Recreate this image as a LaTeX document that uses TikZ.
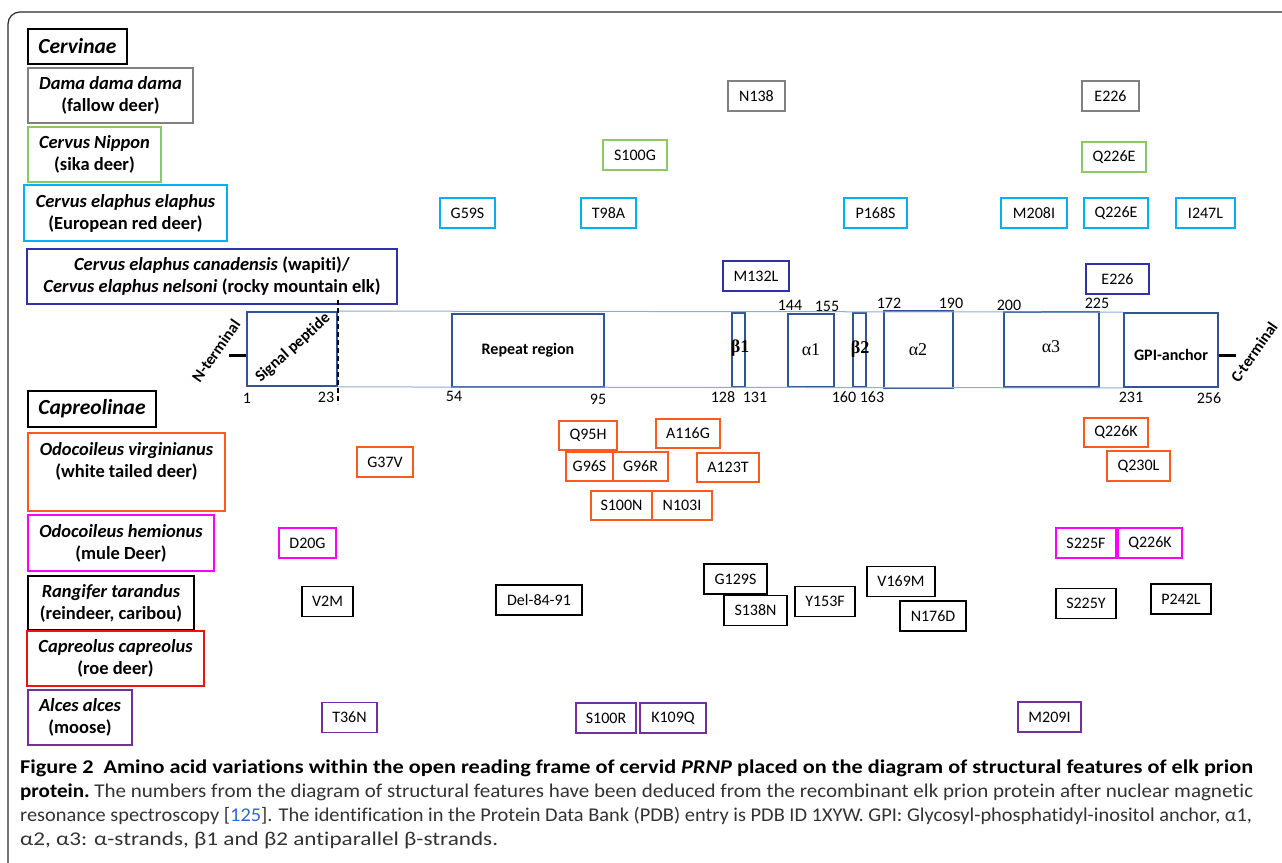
\documentclass[tikz,border=0pt]{standalone}
\usepackage{graphicx}
\usepackage{fontspec}
\setmainfont{Carlito}[Ligatures=NoCommon]
\newfontfamily\grkfont{Liberation Serif}
\definecolor{cgray}{RGB}{128,128,128}
\definecolor{cgreen}{RGB}{140,200,100}
\definecolor{ccyan}{RGB}{0,176,240}
\definecolor{cdblue}{RGB}{48,48,170}
\definecolor{corange}{RGB}{255,90,30}
\definecolor{cmag}{RGB}{255,0,255}
\definecolor{cred}{RGB}{240,16,16}
\definecolor{cpurple}{RGB}{112,48,160}
\definecolor{protblue}{RGB}{47,85,151}
\definecolor{thinblue}{RGB}{143,170,220}
\definecolor{framec}{RGB}{40,40,40}
\definecolor{captext}{RGB}{50,50,50}
\definecolor{reflink}{RGB}{50,100,220}
\newsavebox\capbox
\newcommand\fitline[2]{\sbox\capbox{#2}\pgfmathsetmacro\capratio{#1/\the\wd\capbox}\scalebox{\capratio}[1]{\usebox\capbox}}
\tikzset{
  spbox/.style={draw, line width=1.8pt, align=center, inner sep=0pt,
    font=\fontsize{18.5}{22}\selectfont\bfseries},
  mut/.style={draw, line width=1.6pt, minimum height=30pt, inner sep=0pt,
    font=\fontsize{16}{18}\selectfont},
  pbox/.style={draw=protblue, line width=1.8pt, inner sep=0pt,
    font=\fontsize{16}{18}\selectfont\bfseries},
  grk/.style={font=\fontsize{18}{20}\selectfont\grkfont},
  num/.style={inner sep=0pt, font=\fontsize{16}{18}\selectfont},
  term/.style={inner sep=0pt, font=\fontsize{16}{18}\selectfont\bfseries},
  thinl/.style={draw=thinblue, line width=1pt},
  stub/.style={draw=black, line width=3pt},
  capl/.style={anchor=base west, inner sep=0pt, font=\fontsize{19.5}{24}\selectfont},
}
\begin{document}
\begin{tikzpicture}[x=1pt,y=-1pt]
\useasboundingbox (0,0) rectangle (1282,862);
% frame
\draw[framec, line width=1.2pt, rounded corners=12pt] (1290,12) -- (8,12) -- (8,870);

% ---- species boxes ----
\node[spbox, minimum width=99pt, minimum height=35pt, font=\fontsize{21.5}{24}\selectfont\bfseries\itshape] (cerv) at (77.5,46.5) {Cervinae};
\node[spbox, draw=cgray, minimum width=165pt, minimum height=55pt] (dama) at (110.5,95.5) {\itshape Dama dama dama\\(fallow deer)};
\node[spbox, draw=cgreen, minimum width=133pt, minimum height=55pt] (nipp) at (94.5,154.5) {\itshape Cervus Nippon\\(sika deer)};
\node[spbox, draw=ccyan, minimum width=203pt, minimum height=56pt] (elap) at (125.5,213) {\itshape Cervus elaphus elaphus\\(European red deer)};
\node[spbox, draw=cdblue, minimum width=370pt, minimum height=55pt] (cana) at (212,276.5) {\textit{Cervus elaphus canadensis} (wapiti)/\\\textit{Cervus elaphus nelsoni} (rocky mountain elk)};

\node[spbox, minimum width=128pt, minimum height=36pt, font=\fontsize{21.5}{24}\selectfont\bfseries\itshape] (capr) at (92,409) {Capreolinae};
\node[spbox, draw=corange, minimum width=197pt, minimum height=78pt] (virg) at (126.5,472) {};
\node[spbox, draw=none, align=center] (virgt) at (126.5,461) {\itshape Odocoileus virginianus\\(white tailed deer)};
\node[spbox, draw=cmag, minimum width=186pt, minimum height=56pt] (hemi) at (121,543) {\itshape Odocoileus hemionus\\(mule Deer)};
\node[spbox, minimum width=166pt, minimum height=54pt] (rang) at (111,603) {\itshape Rangifer tarandus\\(reindeer, caribou)};
\node[spbox, draw=cred, minimum width=177pt, minimum height=55pt] (capc) at (115.5,658.5) {\itshape Capreolus capreolus\\(roe deer)};
\node[spbox, draw=cpurple, minimum width=104pt, minimum height=55pt] (alce) at (80,717.5) {\itshape Alces alces\\(moose)};

% ---- Cervinae variations ----
\node[mut, draw=cgray, minimum width=57pt] (n138) at (756.5,96) {N138};
\node[mut, draw=cgray, minimum width=57pt] (e226a) at (1110.5,96) {E226};
\node[mut, draw=cgreen, minimum width=64pt] (s100g) at (635,155) {S100G};
\node[mut, draw=cgreen, minimum width=64pt] (q226ea) at (1114,157) {Q226E};
\node[mut, draw=ccyan, minimum width=55pt] (g59s) at (467.5,213) {G59S};
\node[mut, draw=ccyan, minimum width=55pt] (t98a) at (608.5,213) {T98A};
\node[mut, draw=ccyan, minimum width=63pt] (p168s) at (875.5,213) {P168S};
\node[mut, draw=ccyan, minimum width=66pt] (m208i) at (1034,213) {M208I};
\node[mut, draw=ccyan, minimum width=64pt] (q226eb) at (1116,213) {Q226E};
\node[mut, draw=ccyan, minimum width=59pt] (i247l) at (1205.5,213) {I247L};
\node[mut, draw=cdblue, minimum width=66pt] (m132l) at (756,276) {M132L};
\node[mut, draw=cdblue, minimum width=63pt] (e226b) at (1117.5,279) {E226};

% ---- protein diagram ----
\node[pbox, minimum width=90pt, minimum height=74pt] (sig) at (292,349) {};
\node[pbox, minimum width=152pt, minimum height=73pt] (rep) at (528,350.5) {Repeat region};
\node[pbox, minimum width=13pt, minimum height=74pt] (b1) at (738.5,350) {};
\node[pbox, minimum width=46pt, minimum height=73pt] (a1) at (811,350.5) {};
\node[pbox, minimum width=13pt, minimum height=74pt] (b2) at (859.5,350) {};
\node[pbox, minimum width=69pt, minimum height=77pt] (a2) at (918.5,349.5) {};
\node[pbox, minimum width=95pt, minimum height=75pt] (a3) at (1051.5,349.5) {};
\node[pbox, minimum width=94pt, minimum height=74pt] (gpi) at (1171,350) {};
\node[term] (gpit) at (1171,355) {GPI-anchor};
\draw[thinl] (sig.north east) -- (gpi.north west);
\draw[thinl] (sig.south east) -- (gpi.south west);

\node[grk, font=\fontsize{18}{20}\selectfont\grkfont\bfseries] (b1t) at (740,348) {β1};
\node[grk] (a1t) at (811,350) {α1};
\node[grk, font=\fontsize{18}{20}\selectfont\grkfont\bfseries] (b2t) at (860,349) {β2};
\node[grk] (a2t) at (918,350) {α2};
\node[grk] (a3t) at (1051,347) {α3};

\node[term, rotate=42] (sigt) at (293,348) {Signal peptide};
\node[term, rotate=55] (nterm) at (216,351) {N-terminal};
\node[term, rotate=55] (cterm) at (1254,352) {C-terminal};
\coordinate (nstub) at (229,355);
\coordinate (cstub) at (1236,355);
\draw[stub] (nstub) -- (sig.west |- nstub);
\draw[stub] (gpi.east |- cstub) -- (cstub);
\coordinate (dtop) at (338,300);
\coordinate (dbot) at (338,404);
\draw[black, line width=1.6pt, dash pattern=on 5pt off 3pt] (dtop) -- (dbot);

\node[num] (p1) at (247,398) {1};
\node[num] (p23) at (326,397) {23};
\node[num] (p54) at (454,396) {54};
\node[num] (p95) at (598,399) {95};
\node[num] (p128) at (723,397) {128};
\node[num] (p131) at (755,397) {131};
\node[num] (p160) at (844,397) {160};
\node[num] (p163) at (872,397) {163};
\node[num] (p231) at (1131,397) {231};
\node[num] (p256) at (1209,398) {256};
\node[num] (p144) at (790,305) {144};
\node[num] (p155) at (827,306) {155};
\node[num] (p172) at (889,303) {172};
\node[num] (p190) at (951,303) {190};
\node[num] (p200) at (1009,305) {200};
\node[num] (p225) at (1097,303) {225};

% ---- Capreolinae variations ----
\node[mut, draw=corange, minimum width=58pt, minimum height=29pt] (q95h) at (588,435.5) {Q95H};
\node[mut, draw=corange, minimum width=64pt, minimum height=29pt] (a116g) at (688,433.5) {A116G};
\node[mut, draw=corange, minimum width=47pt, minimum height=29pt] (g96s) at (589.5,466.5) {G96S};
\node[mut, draw=corange, minimum width=55pt, minimum height=29pt] (g96r) at (640.5,466.5) {G96R};
\node[mut, draw=corange, minimum width=62pt, minimum height=29pt] (a123t) at (728,467.5) {A123T};
\node[mut, draw=corange, minimum width=61pt, minimum height=29pt] (s100n) at (621.5,505.5) {S100N};
\node[mut, draw=corange, minimum width=60pt, minimum height=29pt] (n103i) at (682,505.5) {N103I};
\node[mut, draw=corange, minimum width=56pt] (g37v) at (385,462) {G37V};
\node[mut, draw=corange, minimum width=64pt, minimum height=29pt] (q226ka) at (1116,432.5) {Q226K};
\node[mut, draw=corange, minimum width=63pt] (q230l) at (1138.5,466) {Q230L};

\node[mut, draw=cmag, minimum width=57pt] (d20g) at (307.5,543) {D20G};
\node[mut, draw=cmag, minimum width=60pt] (s225f) at (1086,543) {S225F};
\node[mut, draw=cmag, minimum width=64pt] (q226kb) at (1150,543) {Q226K};

\node[mut, minimum width=51pt] (v2m) at (327.5,601.5) {V2M};
\node[mut, minimum width=86pt] (del) at (539,600) {Del-84-91};
\node[mut, minimum width=63pt] (g129s) at (735.5,579) {G129S};
\node[mut, minimum width=63pt] (s138n) at (755.5,610.5) {S138N};
\node[mut, minimum width=60pt] (y153f) at (825,601.5) {Y153F};
\node[mut, minimum width=68pt] (v169m) at (901,581.5) {V169M};
\node[mut, minimum width=66pt] (n176d) at (933,616) {N176D};
\node[mut, minimum width=60pt] (s225y) at (1086,603.5) {S225Y};
\node[mut, minimum width=60pt] (p242l) at (1181,599) {P242L};

\node[mut, draw=cpurple, minimum width=55pt] (t36n) at (349.5,717.5) {T36N};
\node[mut, draw=cpurple, minimum width=60pt] (s100r) at (606,718) {S100R};
\node[mut, draw=cpurple, minimum width=66pt] (k109q) at (673,718) {K109Q};
\node[mut, draw=cpurple, minimum width=63pt] (m209i) at (1049.5,717) {M209I};

% ---- caption ----
\node[capl] (cap1) at (20,773) {\fitline{1233}{\bfseries Figure 2\ \ Amino acid variations within the open reading frame of cervid \textit{PRNP} placed on the diagram of structural features of elk prion}};
\node[capl] (cap2) at (20,797) {\fitline{1233}{\textbf{protein.}\ {\color{captext}The numbers from the diagram of structural features have been deduced from the recombinant elk prion protein after nuclear magnetic}}};
\node[capl] (cap3) at (20,821) {\fitline{1232}{\color{captext}resonance spectroscopy [{\color{reflink}125}]. The identification in the Protein Data Bank (PDB) entry is PDB ID 1XYW. GPI: Glycosyl-phosphatidyl-inositol anchor, α1,}};
\node[capl] (cap4) at (20,845) {\fitline{478}{\color{captext}α2, α3: α-strands, β1 and β2 antiparallel β-strands.}};
\end{tikzpicture}
\end{document}
